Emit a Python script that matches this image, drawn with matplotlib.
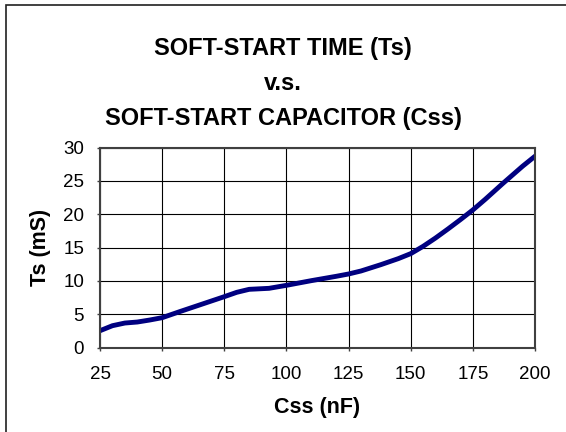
import matplotlib
matplotlib.use('Agg')
import matplotlib.pyplot as plt
from matplotlib.patches import Rectangle

plt.rcParams['font.family'] = ['Liberation Sans', 'DejaVu Sans']

# Soft-start capacitor (nF) vs soft-start time (mS)
css = [25, 30, 35, 40, 45, 50, 57, 65, 75, 80, 85, 93, 100, 105, 110, 120, 125,
       130, 138, 145, 150, 155, 160, 165, 170, 175, 180, 187, 195, 200]
ts = [2.55, 3.3, 3.7, 3.85, 4.15, 4.5, 5.4, 6.4, 7.65, 8.3, 8.75, 8.9, 9.35, 9.7, 10.05, 10.7, 11.05,
      11.5, 12.45, 13.35, 14.1, 15.2, 16.45, 17.8, 19.2, 20.65, 22.25, 24.6, 27.2, 28.7]

xticks = [25, 50, 75, 100, 125, 150, 175, 200]
yticks = [0, 5, 10, 15, 20, 25, 30]

fig = plt.figure(figsize=(5.66, 4.32), dpi=100)
ax = fig.add_axes([0.1767, 0.1951, 0.7686, 0.4634])

ax.plot(css, ts, color='#000080', linewidth=3.5, solid_capstyle='round', solid_joinstyle='round')

ax.set_xlim(25, 200)
ax.set_ylim(0, 30)
ax.set_xticks(xticks)
ax.set_yticks(yticks)
ax.grid(True, color='black', linewidth=0.8)
ax.tick_params(labelsize=13.5, length=2, width=1, color='#404040')
ax.tick_params(axis='x', pad=11.5)
ax.tick_params(axis='y', pad=9.5)
for s in ax.spines.values():
    s.set_color('#404040')
    s.set_linewidth(1.5)

ax.set_xlabel('Css (nF)', fontsize=15.5, fontweight='bold', labelpad=10)
ax.set_ylabel('Ts (mS)', fontsize=15.5, fontweight='bold', labelpad=9)

title_lines = ['SOFT-START TIME (Ts)', 'v.s.', 'SOFT-START CAPACITOR (Css)']
for yy, txt in zip([49, 84, 119], title_lines):
    fig.text(0.5, 1 - yy / 432, txt, ha='center', va='center',
             fontsize=17, fontweight='bold')

# outer frame (only left and top edges are inside the image)
fig.patches.append(Rectangle((6 / 566, -0.1), 1.2, 1.1 - 5.5 / 432, transform=fig.transFigure,
                             fill=False, edgecolor='#202020', linewidth=1.2))

fig.savefig('out.png', dpi=100, facecolor='white')
